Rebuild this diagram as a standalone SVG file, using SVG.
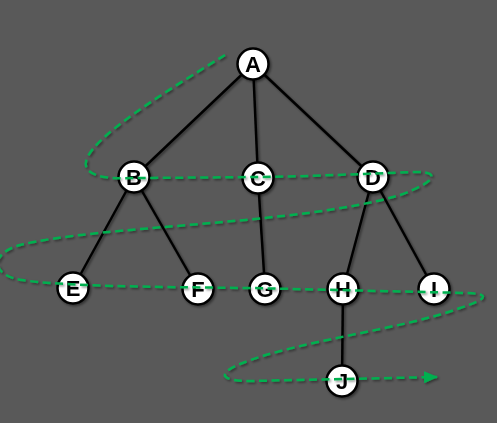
<svg xmlns="http://www.w3.org/2000/svg" width="497" height="423" viewBox="0 0 497 423">
<style>
.edge{stroke:#000;stroke-width:2.5;fill:none}
.node circle{fill:#fff;stroke:#000;stroke-width:2.5}
.node text{font-family:"Liberation Sans",Arial,sans-serif;font-weight:bold;font-size:22px;fill:#000;text-anchor:middle}
.trav{stroke:#00b050;stroke-width:2.5;fill:none;stroke-dasharray:8 4.5}
</style>
<defs>
<filter id="sh" x="-20%" y="-20%" width="140%" height="140%">
<feDropShadow dx="1.5" dy="1.5" stdDeviation="1" flood-color="#000" flood-opacity="0.45"/>
</filter>
<marker id="arr" markerWidth="14" markerHeight="12" refX="13" refY="6" orient="auto" markerUnits="userSpaceOnUse">
<path d="M0,0 L14,6 L0,12 Z" fill="#00b050"/>
</marker>
</defs>
<rect width="497" height="423" fill="#595959"/>
<g id="connectors" filter="url(#sh)">
<line class="edge" x1="253" y1="64" x2="134" y2="177"/>
<line class="edge" x1="253" y1="64" x2="258" y2="178"/>
<line class="edge" x1="253" y1="64" x2="373" y2="177"/>
<line class="edge" x1="134" y1="177" x2="73" y2="288"/>
<line class="edge" x1="134" y1="177" x2="198" y2="289"/>
<line class="edge" x1="258" y1="178" x2="265" y2="289"/>
<line class="edge" x1="373" y1="177" x2="343" y2="289"/>
<line class="edge" x1="373" y1="177" x2="434" y2="289"/>
<line class="edge" x1="343" y1="289" x2="342" y2="381"/>
</g>
<g id="nodes" filter="url(#sh)">
<g id="A" class="node"><circle cx="253" cy="64" r="15.5"/><text x="253" y="72">A</text></g>
<g id="B" class="node"><circle cx="134" cy="177" r="15.5"/><text x="134" y="185">B</text></g>
<g id="C" class="node"><circle cx="258" cy="178" r="15.5"/><text x="258" y="186">C</text></g>
<g id="D" class="node"><circle cx="373" cy="177" r="15.5"/><text x="373" y="185">D</text></g>
<g id="E" class="node"><circle cx="73" cy="288" r="15.5"/><text x="73" y="296">E</text></g>
<g id="F" class="node"><circle cx="198" cy="289" r="15.5"/><text x="198" y="297">F</text></g>
<g id="G" class="node"><circle cx="265" cy="289" r="15.5"/><text x="265" y="297">G</text></g>
<g id="H" class="node"><circle cx="343" cy="289" r="15.5"/><text x="343" y="297">H</text></g>
<g id="I" class="node"><circle cx="434" cy="289" r="15.5"/><text x="434" y="297">I</text></g>
<g id="J" class="node"><circle cx="342" cy="381" r="15.5"/><text x="342" y="389">J</text></g>
</g>
<g id="traversal" filter="url(#sh)">
<path class="trav" marker-end="url(#arr)" d="M225,55 C160,95 70,150 88,170 C98,180 120,178 140,178 L260,177 C330,176 400,172 418,172 C440,172 436,182 400,195 C300,225 100,225 20,245 C-12,254 -8,276 22,280 C60,286 150,287 250,288 L468,293 C490,294 488,299 460,308 C400,330 300,340 240,364 C214,375 224,381 250,381 L437,377"/>
</g>
</svg>
